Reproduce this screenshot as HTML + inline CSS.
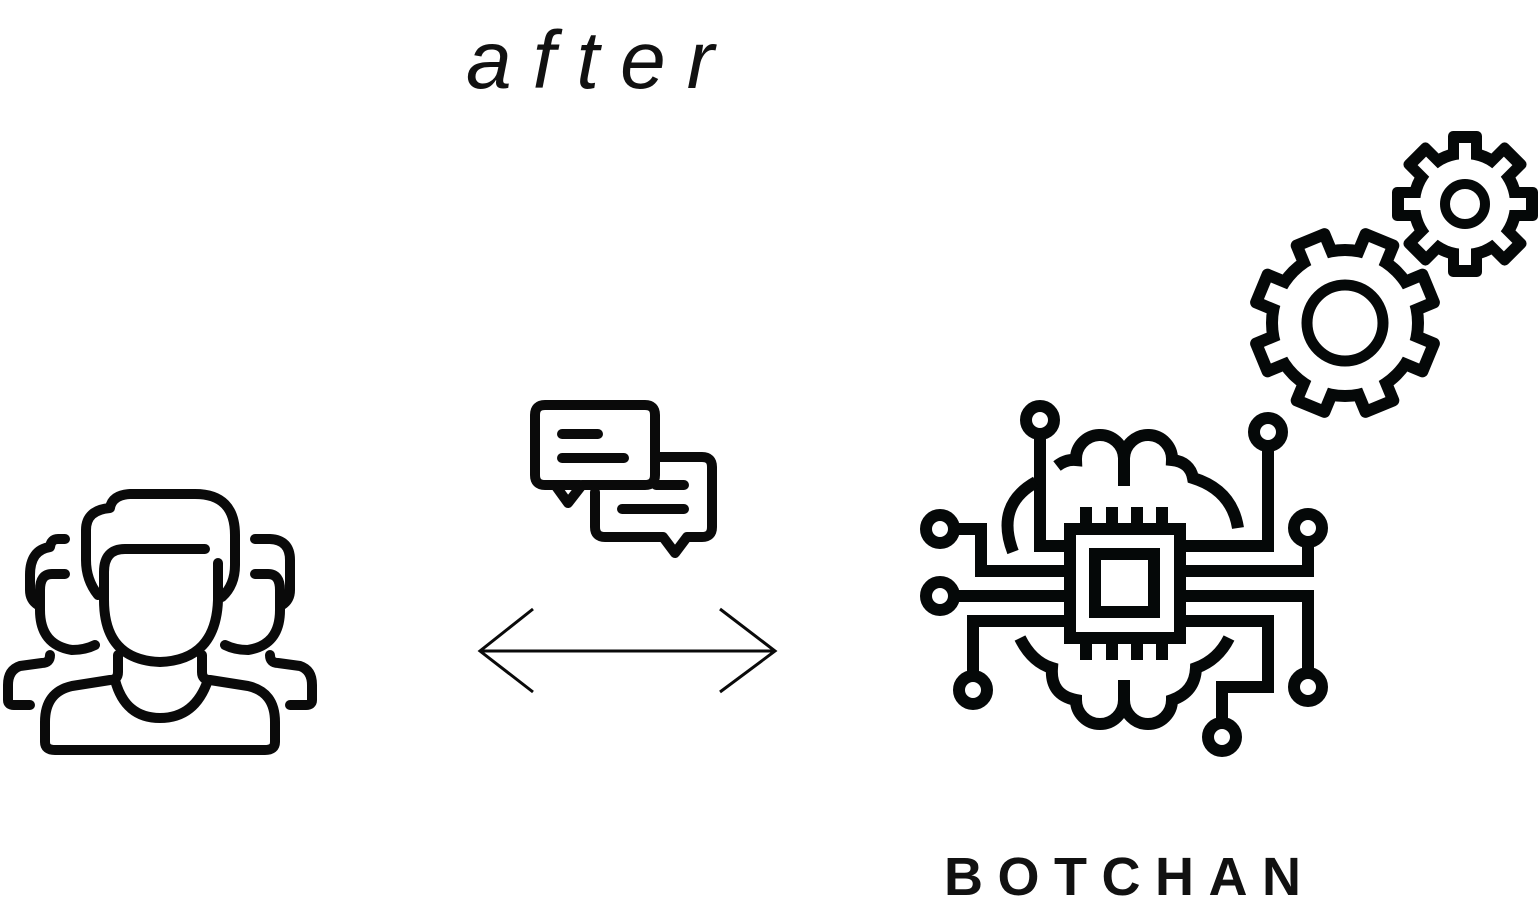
<!DOCTYPE html>
<html><head><meta charset="utf-8"><style>
html,body{margin:0;padding:0;background:#fff;}
body{width:1539px;height:912px;overflow:hidden;position:relative;}
svg{position:absolute;left:0;top:0;}
</style></head><body>
<svg width="1539" height="912" viewBox="0 0 1539 912" xmlns="http://www.w3.org/2000/svg">
<text x="466" y="88" font-family="Liberation Sans, sans-serif" font-style="italic" font-size="82" letter-spacing="21" fill="#111">after</text>
<text x="944" y="895" font-family="Liberation Sans, sans-serif" font-weight="bold" font-size="54" letter-spacing="14.5" fill="#111">BOTCHAN</text>

<!-- people -->
<g fill="none" stroke="#0a0a0a" stroke-width="10" stroke-linecap="round" stroke-linejoin="round">
<path d="M98,595 Q86,580 86,560 L86,530 Q86,510 110,508 Q112,495 130,494 L195,494 Q235,494 235,535 L235,565 Q235,585 222,597"/>
<path d="M205,549 L125,549 Q104,549 104,572 L104,600 Q104,660 160,662 Q216,660 218,600 L218,563"/>
<path d="M118,655 L118,672 Q118,680 110,680 L72,686 Q45,692 45,722 L45,742 Q45,750 55,750 L265,750 Q275,750 275,742 L275,722 Q275,692 248,686 L210,680 Q202,680 202,672 L202,655"/>
<path d="M115,680 Q125,718 160,718 Q195,718 208,680"/>
<path d="M65,539 L58,539 Q51,539 50,547 Q30,550 30,575 L30,590 Q30,600 38,605"/>
<path d="M65,574 L52,574 Q40,574 40,590 L40,610 Q40,645 72,650 Q85,650 95,645"/>
<path d="M50,655 Q50,663 42,663 L20,666 Q8,670 8,685 L8,700 Q8,705 14,705 L30,705"/>
<path d="M255,539 L270,539 Q290,540 290,560 L290,590 Q290,600 282,605"/>
<path d="M255,574 L268,574 Q280,574 280,590 L280,610 Q280,645 248,650 Q235,650 225,645"/>
<path d="M270,655 Q270,663 278,663 L300,666 Q312,670 312,685 L312,700 Q312,705 306,705 L290,705"/>
</g>

<!-- chat -->
<g fill="none" stroke="#0a0a0a" stroke-width="10" stroke-linecap="round" stroke-linejoin="round">
<path d="M657,457 L702,457 Q712,457 712,467 L712,527 Q712,537 702,537 L687,537 L675,553 L663,537 L605,537 Q595,537 595,527 L595,492"/>
<path d="M580,485 L545,485 Q535,485 535,475 L535,415 Q535,405 545,405 L645,405 Q655,405 655,415 L655,475 Q655,485 645,485 L582,485 L568,503 L555,485 Z"/>
<line x1="562" y1="434" x2="598" y2="434"/>
<line x1="562" y1="458" x2="624" y2="458"/>
<line x1="656" y1="485" x2="684" y2="485"/>
<line x1="622" y1="509" x2="684" y2="509"/>
</g>

<!-- arrow -->
<g fill="none" stroke="#0a0a0a" stroke-width="3">
<line x1="480" y1="651" x2="775" y2="651"/>
<polyline points="533,609 480,651 533,692"/>
<polyline points="720,609 775,651 720,692"/>
</g>

<!-- chip / brain -->
<g fill="none" stroke="#050808" stroke-width="12">
<rect x="1070" y="529" width="110" height="109"/>
<rect x="1095" y="554" width="59" height="58"/>
<path d="M1086,507 V523 M1112,507 V523 M1137,507 V523 M1162,507 V523"/>
<path d="M1086,644 V660 M1112,644 V660 M1137,644 V660 M1162,644 V660"/>
<circle cx="940" cy="529" r="14"/>
<path d="M954,529 H981 V571 H1064"/>
<circle cx="940" cy="596" r="14"/>
<path d="M954,596 H1064"/>
<path d="M1064,621 H973 V676"/>
<circle cx="973" cy="690" r="14"/>
<circle cx="1040" cy="420" r="14"/>
<path d="M1040,434 V546 H1064"/>
<circle cx="1268" cy="432" r="14"/>
<path d="M1268,446 V546 H1186"/>
<circle cx="1308" cy="528" r="14"/>
<path d="M1308,542 V571 H1186"/>
<path d="M1186,596 H1308 V673"/>
<circle cx="1308" cy="687" r="14"/>
<path d="M1186,621 H1268 V687 H1222 V723"/>
<circle cx="1222" cy="737" r="14"/>
<path d="M1013,552 Q995,505 1036,482"/>
<path d="M1057,466 Q1066,459 1076,460 A24,24 0 0 1 1124,458 A24,24 0 0 1 1172,460 Q1190,462 1193,478 Q1232,490 1238,528"/>
<path d="M1124,458 V486"/>
<path d="M1020,638 Q1032,662 1052,668 Q1050,695 1076,700 A24,24 0 0 0 1124,700 A24,24 0 0 0 1172,700 Q1195,692 1196,668 Q1218,660 1229,638"/>
<path d="M1124,700 V680"/>
</g>

<!-- big gear -->
<g transform="translate(1345,323)">
<circle r="79" fill="#050808"/>
<g fill="#050808">
<rect x="-21" y="-96" width="42" height="96" rx="6" transform="rotate(22.5)"/>
<rect x="-21" y="-96" width="42" height="96" rx="6" transform="rotate(67.5)"/>
<rect x="-21" y="-96" width="42" height="96" rx="6" transform="rotate(112.5)"/>
<rect x="-21" y="-96" width="42" height="96" rx="6" transform="rotate(157.5)"/>
<rect x="-21" y="-96" width="42" height="96" rx="6" transform="rotate(202.5)"/>
<rect x="-21" y="-96" width="42" height="96" rx="6" transform="rotate(247.5)"/>
<rect x="-21" y="-96" width="42" height="96" rx="6" transform="rotate(292.5)"/>
<rect x="-21" y="-96" width="42" height="96" rx="6" transform="rotate(337.5)"/>
</g>
<circle r="67" fill="#fff"/>
<g fill="#fff">
<rect x="-9" y="-84" width="18" height="84" transform="rotate(22.5)"/>
<rect x="-9" y="-84" width="18" height="84" transform="rotate(67.5)"/>
<rect x="-9" y="-84" width="18" height="84" transform="rotate(112.5)"/>
<rect x="-9" y="-84" width="18" height="84" transform="rotate(157.5)"/>
<rect x="-9" y="-84" width="18" height="84" transform="rotate(202.5)"/>
<rect x="-9" y="-84" width="18" height="84" transform="rotate(247.5)"/>
<rect x="-9" y="-84" width="18" height="84" transform="rotate(292.5)"/>
<rect x="-9" y="-84" width="18" height="84" transform="rotate(337.5)"/>
</g>
<circle r="38" fill="none" stroke="#050808" stroke-width="11"/>
</g>

<!-- small gear -->
<g transform="translate(1465,204)">
<circle r="57" fill="#050808"/>
<g fill="#050808">
<rect x="-17" y="-73" width="34" height="73" rx="5" transform="rotate(0)"/>
<rect x="-17" y="-73" width="34" height="73" rx="5" transform="rotate(45)"/>
<rect x="-17" y="-73" width="34" height="73" rx="5" transform="rotate(90)"/>
<rect x="-17" y="-73" width="34" height="73" rx="5" transform="rotate(135)"/>
<rect x="-17" y="-73" width="34" height="73" rx="5" transform="rotate(180)"/>
<rect x="-17" y="-73" width="34" height="73" rx="5" transform="rotate(225)"/>
<rect x="-17" y="-73" width="34" height="73" rx="5" transform="rotate(270)"/>
<rect x="-17" y="-73" width="34" height="73" rx="5" transform="rotate(315)"/>
</g>
<circle r="45" fill="#fff"/>
<g fill="#fff">
<rect x="-6" y="-61" width="12" height="61" transform="rotate(0)"/>
<rect x="-6" y="-61" width="12" height="61" transform="rotate(45)"/>
<rect x="-6" y="-61" width="12" height="61" transform="rotate(90)"/>
<rect x="-6" y="-61" width="12" height="61" transform="rotate(135)"/>
<rect x="-6" y="-61" width="12" height="61" transform="rotate(180)"/>
<rect x="-6" y="-61" width="12" height="61" transform="rotate(225)"/>
<rect x="-6" y="-61" width="12" height="61" transform="rotate(270)"/>
<rect x="-6" y="-61" width="12" height="61" transform="rotate(315)"/>
</g>
<circle r="20" fill="none" stroke="#050808" stroke-width="10"/>
</g>
</svg>
</body></html>
